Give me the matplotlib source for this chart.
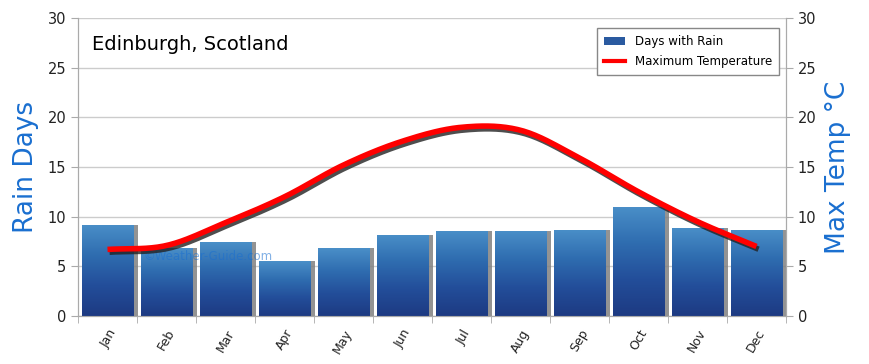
import numpy as np
import matplotlib
matplotlib.use('Agg')
from matplotlib import pyplot as plt
import matplotlib.patheffects as pe
from matplotlib.patches import Patch
from matplotlib.lines import Line2D

# data
months = ['Jan', 'Feb', 'Mar', 'Apr', 'May', 'Jun', 'Jul', 'Aug', 'Sep', 'Oct', 'Nov', 'Dec']
rain_days = [9.2, 6.8, 7.4, 5.5, 6.8, 8.2, 8.6, 8.6, 8.7, 11.0, 8.9, 8.7]
max_temp = [6.7, 7.1, 9.4, 12.0, 15.2, 17.6, 19.0, 18.7, 15.9, 12.5, 9.5, 7.0]

title = 'Edinburgh, Scotland'
blue = '#1a6fd0'

fig = plt.figure(figsize=(8.7, 3.64), dpi=100)
ax = fig.add_axes([78 / 870, 1 - 316 / 364, 708 / 870, 298 / 364])
ax2 = ax.twinx()

x = np.arange(len(months))
w = 0.88

# grid
ax.set_ylim(0, 30)
ax.set_xlim(-0.5, 11.5)
ax.set_yticks(range(0, 31, 5))
ax.grid(axis='y', color='#cccccc', lw=1)
ax.set_axisbelow(True)

# bar shadows
ax.bar(x + 0.07, rain_days, width=w, color='#808080', alpha=0.85, zorder=2)
bars = ax.bar(x, rain_days, width=w, color='#2a5aa0', zorder=3)

# gradient fill for each bar
grad = np.linspace(0, 1, 256).reshape(-1, 1)
cmap = matplotlib.colors.LinearSegmentedColormap.from_list(
    'b', ['#1d3a82', '#234e9a', '#2f6db0', '#4a8fc8'])
for b in bars:
    x0, y0 = b.get_x(), b.get_y()
    im = ax.imshow(grad, extent=[x0, x0 + b.get_width(), y0, y0 + b.get_height()],
                   origin='lower', aspect='auto', cmap=cmap, zorder=3.5)
    im.set_clip_path(b)

# smooth temperature curve (Catmull-Rom for display only)
def smooth(xs, ys, n=20):
    xs = np.asarray(xs, float)
    ys = np.asarray(ys, float)
    px = np.concatenate([[2 * xs[0] - xs[1]], xs, [2 * xs[-1] - xs[-2]]])
    py = np.concatenate([[2 * ys[0] - ys[1]], ys, [2 * ys[-1] - ys[-2]]])
    ox, oy = [], []
    t = np.linspace(0, 1, n, endpoint=False)
    for i in range(1, len(px) - 2):
        for p, o in ((px, ox), (py, oy)):
            p0, p1, p2, p3 = p[i - 1], p[i], p[i + 1], p[i + 2]
            o.extend(0.5 * (2 * p1 + (-p0 + p2) * t + (2 * p0 - 5 * p1 + 4 * p2 - p3) * t ** 2
                            + (-p0 + 3 * p1 - 3 * p2 + p3) * t ** 3))
    ox.append(xs[-1])
    oy.append(ys[-1])
    return ox, oy

sx, sy = smooth(x, max_temp)
ax2.set_ylim(0, 30)
ax2.set_yticks(range(0, 31, 5))
ax2.plot(sx, sy, color='#ff0000', lw=4, solid_capstyle='butt', zorder=5,
         path_effects=[pe.SimpleLineShadow(offset=(1.5, -2), shadow_color='#222222', alpha=0.8),
                       pe.Normal()])

# watermark
ax.text(0.6, 5.6, '©Weather-Guide.com', color=blue, alpha=0.55, fontsize=8.5, zorder=6)

# title
ax.text(0.02, 0.91, title, transform=ax.transAxes, fontsize=14, va='center', ha='left')

# legend
handles = [Patch(facecolor='#2a5aa0', edgecolor='none', label='Days with Rain'),
           Line2D([0], [0], color='red', lw=3, label='Maximum Temperature')]
ax.legend(handles=handles, loc='upper right', bbox_to_anchor=(0.99, 0.966), fontsize=8.5,
          frameon=True, fancybox=False, edgecolor='#888888', framealpha=1, borderaxespad=0,
          handlelength=1.8, borderpad=0.6, labelspacing=0.6).set_zorder(10)

# axes styling
for a in (ax, ax2):
    a.spines['top'].set_visible(False)
    for s in ('left', 'right', 'bottom'):
        a.spines[s].set_color('#aaaaaa')
    a.tick_params(colors='#aaaaaa', labelcolor='#222222', labelsize=10.5, length=5)
ax.set_xticks(x)
ax.set_xticklabels(months, rotation=60, ha='right', rotation_mode='anchor', fontsize=9)
ax.tick_params(axis='x', length=0, pad=8)
ax.set_xticks(np.arange(-0.5, 12, 1), minor=True)
ax.tick_params(axis='x', which='minor', length=5, color='#aaaaaa')

ax.set_ylabel('Rain Days', color=blue, fontsize=19, labelpad=6)
ax2.set_ylabel('Max Temp °C', color=blue, fontsize=19, labelpad=6)

fig.savefig('out.png', dpi=100)
